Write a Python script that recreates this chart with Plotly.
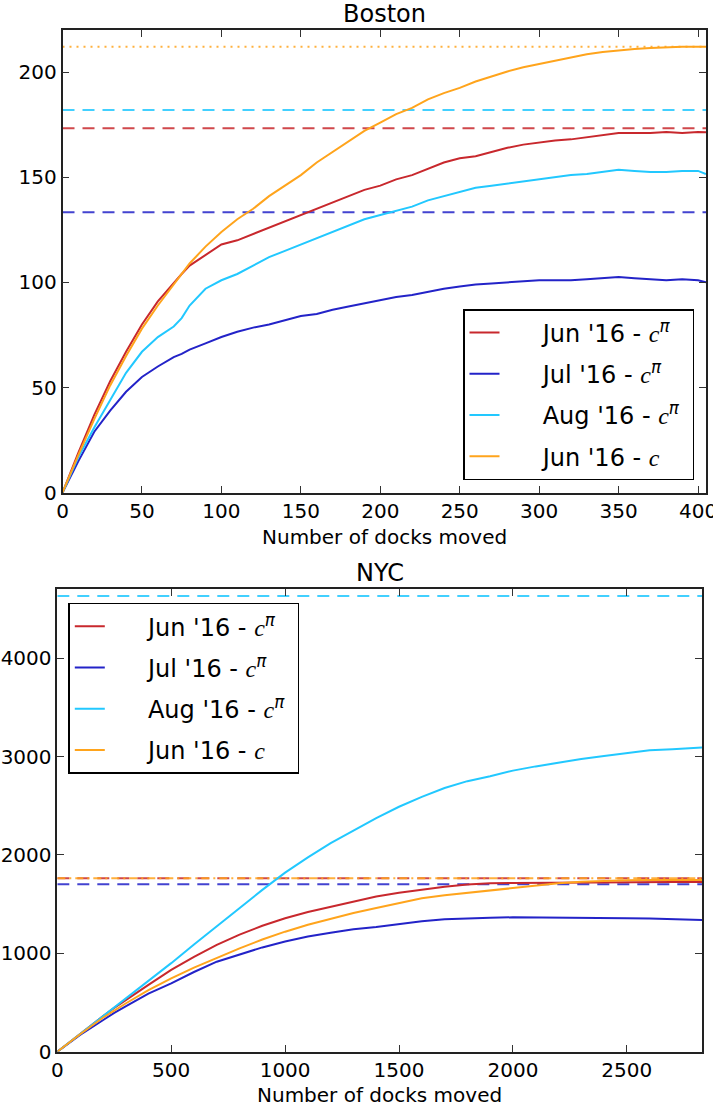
import plotly.graph_objects as go

# ---------------- Boston data ----------------
boston_x = [0, 10, 20, 30, 40, 50, 60, 70, 75, 80, 90, 100, 110, 120, 130, 140, 150, 160, 170,
            180, 190, 200, 210, 220, 230, 240, 250, 260, 270, 280, 290, 300, 310, 320, 330,
            340, 350, 360, 370, 380, 390, 400, 405]
boston_jun_cpi = [0, 19, 37, 53, 67, 80, 91, 100, 104, 108, 113, 118, 120, 123, 126, 129, 132, 135, 138,
                  141, 144, 146, 149, 151, 154, 157, 159, 160, 162, 164, 165.5, 166.5, 167.5, 168, 169,
                  170, 171, 171, 171, 171.5, 171, 171.5, 171.4]
boston_jul_cpi = [0, 15, 29, 39, 48, 55, 60, 64.5, 66, 68, 71, 74, 76.5, 78.5, 80, 82, 84, 85, 87,
                  88.5, 90, 91.5, 93, 94, 95.5, 97, 98, 99, 99.5, 100, 100.5, 101, 101, 101, 101.5,
                  102, 102.5, 102, 101.5, 101, 101.5, 101, 100]
boston_aug_cpi = [0, 17, 31, 44, 57, 67, 74, 79, 83, 89, 97, 101, 104, 108, 112, 115, 118, 121, 124,
                  127, 130, 132, 134, 136, 139, 141, 143, 145, 146, 147, 148, 149, 150, 151, 151.5,
                  152.5, 153.5, 153, 152.5, 152.5, 153, 153, 151.5]
boston_jun_c = [0, 18, 35, 51, 65, 78, 89, 99, 104, 109, 117, 124, 130, 135, 141, 146, 151, 157, 162,
                167, 172, 176, 180, 183, 187, 190, 192.5, 195.5, 198, 200.3, 202.3, 203.8, 205.5, 207, 208.5,
                209.5, 210.3, 211, 211.5, 211.8, 212, 212, 212]
boston_levels = {"jun_cpi": 173.3, "jul_cpi": 133.3, "aug_cpi": 182.0, "jun_c": 212.0}

# ---------------- NYC data ----------------
nyc_x = [0, 100, 200, 250, 300, 400, 500, 600, 700, 800, 900, 1000, 1100, 1200, 1300, 1400, 1500,
         1600, 1700, 1800, 1900, 2000, 2100, 2200, 2300, 2400, 2500, 2600, 2700, 2830]
nyc_jun_cpi = [0, 182, 360, 445, 525, 680, 831, 965, 1085, 1190, 1280, 1356, 1420, 1475, 1530, 1578, 1615,
               1648, 1676, 1700, 1712, 1715, 1717, 1720, 1725, 1726, 1726, 1726, 1726, 1726]
nyc_jul_cpi = [0, 170, 320, 395, 460, 590, 695, 810, 915, 990, 1060, 1120, 1170, 1210, 1245, 1268, 1300,
               1325, 1345, 1355, 1362, 1366, 1363, 1360, 1356, 1356, 1357, 1355, 1348, 1339]
nyc_aug_cpi = [0, 180, 360, 448, 535, 715, 900, 1090, 1275, 1460, 1645, 1820, 1975, 2120, 2250, 2375, 2490,
               2590, 2680, 2750, 2800, 2857, 2900, 2940, 2975, 3005, 3035, 3063, 3075, 3091]
nyc_jun_c = [0, 178, 345, 420, 490, 625, 746, 855, 955, 1050, 1140, 1220, 1290, 1350, 1410, 1460, 1510,
             1560, 1590, 1615, 1640, 1661, 1688, 1712, 1728, 1738, 1742, 1745, 1746, 1746]
nyc_levels = {"jun_cpi": 1763, "jul_cpi": 1702, "aug_cpi": 4633, "jun_c": 1763}

boston_xticks = [0, 50, 100, 150, 200, 250, 300, 350, 400]
boston_yticks = [0, 50, 100, 150, 200]
nyc_xticks = [0, 500, 1000, 1500, 2000, 2500]
nyc_yticks = [0, 1000, 2000, 3000, 4000]

# ---------------- styling ----------------
W, H = 713, 1108


def fx(px):
    return px / W


def fy(py):
    return 1 - py / H


FONT = "DejaVu Sans"
COL = {"jun_cpi": "#c8282d", "jul_cpi": "#2323c8", "aug_cpi": "#22c8ff", "jun_c": "#ffa41c"}
CSYM = "<span style=\"font-family:'Liberation Serif'\"><i>c</i></span>"
NB = "\u00a0" * 5
TAIL = "\u00a0"
LABELS = {
    "jun_cpi": NB + "Jun '16 - " + CSYM + "<sup><i>π</i></sup>" + TAIL,
    "jul_cpi": NB + "Jul '16 - " + CSYM + "<sup><i>π</i></sup>" + TAIL,
    "aug_cpi": NB + "Aug '16 - " + CSYM + "<sup><i>π</i></sup>" + TAIL,
    "jun_c": NB + "Jun '16 - " + CSYM + TAIL,
}
DASH = "12px,8px"
LEVEL_DASH_TOP = {"jun_cpi": DASH, "jul_cpi": DASH, "aug_cpi": DASH, "jun_c": "2px,5px"}
LEVEL_DASH_BOT = {"jun_cpi": DASH, "jul_cpi": DASH, "aug_cpi": DASH, "jun_c": "8px,4px,2px,4px"}

fig = go.Figure()

keys = ["jun_cpi", "jul_cpi", "aug_cpi", "jun_c"]
boston_series = {"jun_cpi": boston_jun_cpi, "jul_cpi": boston_jul_cpi,
                 "aug_cpi": boston_aug_cpi, "jun_c": boston_jun_c}
nyc_series = {"jun_cpi": nyc_jun_cpi, "jul_cpi": nyc_jul_cpi,
              "aug_cpi": nyc_aug_cpi, "jun_c": nyc_jun_c}

# level lines (drawn first)
for k in keys:
    fig.add_trace(go.Scatter(x=[0, 405], y=[boston_levels[k]] * 2, mode="lines",
                             line=dict(color=COL[k], width=2, dash=LEVEL_DASH_TOP[k]),
                             opacity=0.85, showlegend=False, hoverinfo="skip",
                             xaxis="x", yaxis="y"))
for k in keys:
    fig.add_trace(go.Scatter(x=[0, 2830], y=[nyc_levels[k]] * 2, mode="lines",
                             line=dict(color=COL[k], width=2, dash=LEVEL_DASH_BOT[k]),
                             opacity=0.85, showlegend=False, hoverinfo="skip",
                             xaxis="x2", yaxis="y2"))

for k in keys:
    fig.add_trace(go.Scatter(x=boston_x, y=boston_series[k], mode="lines", name=LABELS[k],
                             line=dict(color=COL[k], width=2), legend="legend",
                             legendgroup="b" + k, xaxis="x", yaxis="y"))
for k in keys:
    fig.add_trace(go.Scatter(x=nyc_x, y=nyc_series[k], mode="lines", name=LABELS[k],
                             line=dict(color=COL[k], width=2), legend="legend2",
                             legendgroup="n" + k, xaxis="x2", yaxis="y2"))

axis_common = dict(ticks="inside", ticklen=7, tickwidth=1.2, tickcolor="#333",
                   mirror="allticks", showline=True, linecolor="#222", linewidth=1.5,
                   showgrid=False, zeroline=False, automargin=False,
                   ticklabeloverflow="allow",
                   tickfont=dict(family=FONT, size=20, color="black"))

legend_common = dict(xanchor="left", yanchor="top",
                     bordercolor="black", borderwidth=1.5, bgcolor="white",
                     font=dict(family=FONT, size=24, color="black"),
                     traceorder="grouped", tracegroupgap=7, itemwidth=30)

fig.update_layout(
    width=W, height=H, autosize=False,
    margin=dict(l=0, r=0, t=0, b=0, autoexpand=False),
    paper_bgcolor="white", plot_bgcolor="white",
    font=dict(family=FONT, color="black"),
    xaxis=dict(domain=[fx(62.5), fx(706)], range=[0, 405], anchor="y",
               tickvals=boston_xticks, **axis_common),
    yaxis=dict(domain=[fy(492.7), fy(30)], range=[0, 220], anchor="x",
               tickvals=boston_yticks, **axis_common),
    xaxis2=dict(domain=[fx(57.3), fx(702)], range=[0, 2830], anchor="y2",
                tickvals=nyc_xticks, **axis_common),
    yaxis2=dict(domain=[fy(1051.7), fy(589.3)], range=[0, 4700], anchor="x2",
                tickvals=nyc_yticks, **axis_common),
    legend=dict(x=fx(463), y=fy(309), **legend_common),
    legend2=dict(x=fx(68.3), y=fy(602.7), **legend_common),
    showlegend=True,
    annotations=[
        dict(text="Boston", x=fx(384), y=fy(14), xref="paper", yref="paper",
             showarrow=False, font=dict(family=FONT, size=24), xanchor="center", yanchor="middle"),
        dict(text="Number of docks moved", x=fx(384), y=fy(537), xref="paper", yref="paper",
             showarrow=False, font=dict(family=FONT, size=20), xanchor="center", yanchor="middle"),
        dict(text="NYC", x=fx(379.6), y=fy(573), xref="paper", yref="paper",
             showarrow=False, font=dict(family=FONT, size=24), xanchor="center", yanchor="middle"),
        dict(text="Number of docks moved", x=fx(379.6), y=fy(1095), xref="paper", yref="paper",
             showarrow=False, font=dict(family=FONT, size=20), xanchor="center", yanchor="middle"),
    ],
)

fig.write_html(
    "out.html",
    config={"displayModeBar": False},
    post_script="document.body.style.margin='0px';document.body.style.overflow='hidden';",
)
